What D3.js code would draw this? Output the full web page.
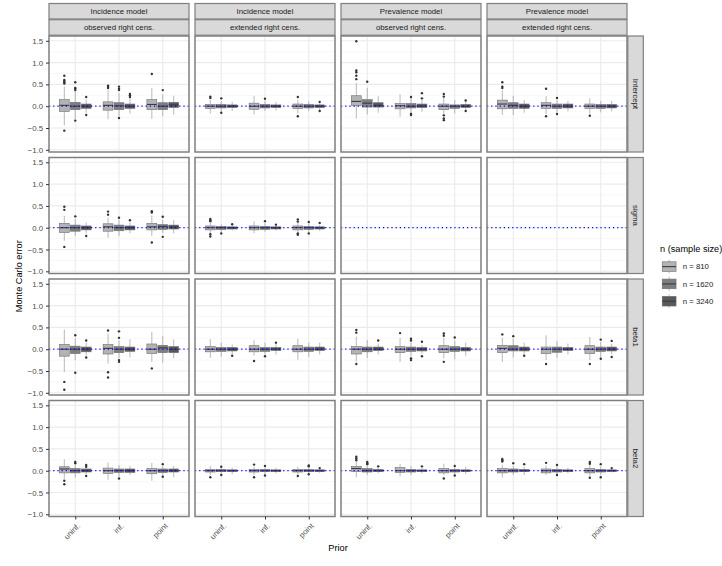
<!DOCTYPE html>
<html>
<head>
<meta charset="utf-8">
<script src="https://cdn.jsdelivr.net/npm/d3@7"></script>
<style>
  body { margin: 0; background: #fff; }
  svg { font-family: "Liberation Sans", Arial, sans-serif; }
</style>
</head>
<body>
<svg width="722" height="566"></svg>
<script>
const params = ["Intercept", "sigma", "beta1", "beta2"];
const models = ["Incidence model", "Incidence model", "Prevalence model", "Prevalence model"];
const censoring = ["observed right cens.", "extended right cens.", "observed right cens.", "extended right cens."];
const priors = ["uninf.", "inf.", "point"];
const sizes = ["n = 810", "n = 1620", "n = 3240"];
const yTicks = [-1, -0.5, 0, 0.5, 1, 1.5];
const yMinor = [-0.75, -0.25, 0.25, 0.75, 1.25];

// box = [lower whisker, q1, median, q3, upper whisker, outliers]
// one list per panel column, prior by prior, n = 810 / 1620 / 3240 inside
const intercept = [
  [[-0.44,-0.12,0.02,0.15,0.45,[0.70,0.60,0.58,0.55,0.52,-0.56]],
   [-0.30,-0.08,0.00,0.09,0.34,[0.55,0.42,0.40,0.37,-0.33]],
   [-0.15,-0.05,0.00,0.05,0.15,[0.21,-0.20]],
   [-0.30,-0.09,0.02,0.10,0.38,[0.47,0.44,0.42]],
   [-0.23,-0.08,0.01,0.08,0.30,[0.45,0.40,0.37,-0.27]],
   [-0.17,-0.05,0.00,0.05,0.18,[0.28,0.25,0.21]],
   [-0.29,-0.08,0.04,0.15,0.42,[0.74]],
   [-0.23,-0.08,0.00,0.08,0.27,[0.37]],
   [-0.19,-0.03,0.03,0.09,0.24,[]]],
  [[-0.17,-0.05,0.00,0.04,0.15,[0.22,0.19]],
   [-0.11,-0.04,0.00,0.04,0.12,[0.18,-0.15]],
   [-0.11,-0.03,0.00,0.03,0.10,[]],
   [-0.19,-0.07,0.00,0.07,0.24,[]],
   [-0.11,-0.04,0.00,0.04,0.12,[0.17]],
   [-0.10,-0.03,0.00,0.03,0.10,[]],
   [-0.17,-0.05,0.00,0.05,0.15,[0.21,-0.23]],
   [-0.11,-0.04,0.00,0.04,0.11,[]],
   [-0.09,-0.03,0.00,0.03,0.08,[0.10,-0.11]]],
  [[-0.28,0.02,0.11,0.24,0.53,[1.49,0.82,0.78,0.70,0.62]],
   [-0.19,-0.02,0.07,0.15,0.42,[0.56]],
   [-0.15,-0.02,0.02,0.08,0.23,[]],
   [-0.24,-0.06,0.01,0.06,0.27,[]],
   [-0.16,-0.04,0.00,0.06,0.18,[0.21,-0.18,-0.20]],
   [-0.13,-0.03,0.00,0.05,0.15,[0.30,0.18]],
   [-0.19,-0.08,0.00,0.05,0.19,[0.28,0.22,-0.21,-0.28,-0.32]],
   [-0.17,-0.05,0.00,0.03,0.14,[]],
   [-0.09,-0.03,0.00,0.04,0.10,[0.13,-0.11]]],
  [[-0.20,-0.06,0.05,0.14,0.38,[0.55,0.45,0.42]],
   [-0.20,-0.05,0.02,0.08,0.24,[]],
   [-0.15,-0.05,0.00,0.05,0.14,[]],
   [-0.18,-0.05,0.02,0.08,0.23,[0.40,-0.23]],
   [-0.14,-0.05,0.00,0.05,0.15,[0.19,-0.18]],
   [-0.12,-0.04,0.00,0.05,0.12,[]],
   [-0.17,-0.05,0.00,0.05,0.18,[-0.22]],
   [-0.14,-0.05,0.00,0.04,0.12,[]],
   [-0.12,-0.04,0.00,0.04,0.12,[]]]
];

const sigma = [
  [[-0.30,-0.11,0.00,0.10,0.27,[0.48,0.41,-0.44]],
   [-0.19,-0.08,0.00,0.06,0.20,[0.26]],
   [-0.13,-0.05,0.00,0.04,0.12,[-0.19]],
   [-0.23,-0.08,0.02,0.09,0.23,[0.37,0.30]],
   [-0.19,-0.07,0.00,0.06,0.18,[0.23]],
   [-0.13,-0.05,0.00,0.04,0.12,[0.17]],
   [-0.19,-0.05,0.02,0.10,0.28,[0.38,0.35,-0.34]],
   [-0.12,-0.04,0.03,0.07,0.18,[0.25,-0.21]],
   [-0.13,-0.03,0.02,0.06,0.18,[]]],
  [[-0.13,-0.05,0.00,0.04,0.12,[0.20,0.17,0.15,-0.15,-0.20]],
   [-0.11,-0.04,0.00,0.03,0.08,[-0.13]],
   [-0.06,-0.03,0.00,0.02,0.05,[0.08]],
   [-0.13,-0.05,0.00,0.04,0.15,[]],
   [-0.09,-0.04,0.00,0.03,0.10,[0.15]],
   [-0.06,-0.03,0.00,0.02,0.05,[0.07]],
   [-0.11,-0.05,0.00,0.04,0.11,[0.19,0.14,-0.13,-0.16]],
   [-0.09,-0.04,0.00,0.03,0.09,[0.13,-0.13]],
   [-0.07,-0.03,0.00,0.02,0.07,[0.11]]],
  null,
  null
];

const beta1 = [
  [[-0.52,-0.16,0.00,0.11,0.45,[-0.75,-0.93]],
   [-0.25,-0.10,0.00,0.07,0.25,[0.32,-0.54]],
   [-0.14,-0.06,0.00,0.05,0.15,[0.20,-0.19]],
   [-0.33,-0.11,0.02,0.11,0.36,[0.43,-0.53,-0.65]],
   [-0.21,-0.08,0.00,0.06,0.20,[0.41,0.26,-0.25,-0.29]],
   [-0.19,-0.05,0.00,0.05,0.23,[]],
   [-0.29,-0.10,0.00,0.12,0.40,[-0.44]],
   [-0.31,-0.08,0.03,0.09,0.30,[]],
   [-0.21,-0.08,0.00,0.06,0.22,[]]],
  [[-0.20,-0.06,0.00,0.06,0.23,[]],
   [-0.17,-0.05,0.00,0.04,0.15,[]],
   [-0.11,-0.04,0.00,0.04,0.11,[-0.15]],
   [-0.15,-0.06,0.00,0.08,0.21,[-0.27]],
   [-0.12,-0.05,0.00,0.04,0.15,[-0.16]],
   [-0.12,-0.03,0.00,0.04,0.11,[0.15]],
   [-0.24,-0.06,0.00,0.08,0.24,[]],
   [-0.18,-0.05,0.00,0.05,0.15,[]],
   [-0.12,-0.03,0.00,0.05,0.15,[]]],
  [[-0.28,-0.11,0.00,0.06,0.29,[0.44,0.38,-0.34]],
   [-0.20,-0.06,0.00,0.05,0.21,[]],
   [-0.12,-0.03,0.00,0.05,0.13,[0.20]],
   [-0.29,-0.08,0.00,0.06,0.26,[0.37]],
   [-0.16,-0.05,0.00,0.05,0.15,[0.24,0.20,-0.21,-0.25]],
   [-0.10,-0.04,0.00,0.04,0.10,[0.17,-0.16]],
   [-0.21,-0.08,0.00,0.08,0.26,[0.36,0.31,-0.29]],
   [-0.23,-0.05,0.00,0.06,0.20,[0.27]],
   [-0.15,-0.04,0.00,0.04,0.15,[]]],
  [[-0.29,-0.08,0.02,0.09,0.26,[0.34]],
   [-0.19,-0.04,0.00,0.08,0.24,[0.30]],
   [-0.12,-0.04,0.00,0.05,0.15,[-0.15]],
   [-0.25,-0.10,0.00,0.05,0.32,[-0.34]],
   [-0.20,-0.07,0.00,0.05,0.19,[]],
   [-0.12,-0.03,0.00,0.04,0.13,[]],
   [-0.25,-0.10,0.00,0.08,0.28,[-0.34]],
   [-0.18,-0.05,0.00,0.05,0.17,[0.22,-0.22]],
   [-0.12,-0.04,0.00,0.05,0.13,[0.19,-0.18]]]
];

const beta2 = [
  [[-0.18,-0.05,0.04,0.09,0.26,[-0.23,-0.31]],
   [-0.16,-0.05,0.00,0.05,0.13,[0.20,0.17]],
   [-0.09,-0.03,0.00,0.04,0.07,[0.13,0.09,-0.12]],
   [-0.21,-0.06,0.00,0.06,0.19,[]],
   [-0.14,-0.04,0.00,0.04,0.13,[-0.18]],
   [-0.10,-0.04,0.00,0.04,0.11,[]],
   [-0.23,-0.07,0.00,0.05,0.18,[]],
   [-0.11,-0.04,0.00,0.04,0.11,[0.15,-0.14]],
   [-0.15,-0.03,0.00,0.04,0.11,[]]],
  [[-0.10,-0.03,0.00,0.03,0.11,[-0.15]],
   [-0.07,-0.02,0.00,0.03,0.07,[0.09,-0.10]],
   [-0.08,-0.02,0.00,0.02,0.07,[]],
   [-0.10,-0.03,0.00,0.03,0.09,[0.14,-0.15]],
   [-0.08,-0.02,0.00,0.03,0.08,[0.11,-0.11]],
   [-0.06,-0.02,0.00,0.02,0.07,[]],
   [-0.09,-0.03,0.00,0.03,0.09,[-0.12]],
   [-0.06,-0.02,0.00,0.03,0.07,[0.12,0.10,-0.08]],
   [-0.05,-0.02,0.00,0.02,0.04,[0.06]]],
  [[-0.15,-0.02,0.05,0.10,0.20,[0.32,0.28,0.24]],
   [-0.10,-0.03,0.00,0.05,0.12,[0.20,0.17,0.15]],
   [-0.06,-0.02,0.00,0.03,0.07,[0.10]],
   [-0.13,-0.04,0.00,0.07,0.15,[]],
   [-0.10,-0.03,0.00,0.03,0.11,[]],
   [-0.06,-0.02,0.00,0.02,0.07,[0.10]],
   [-0.10,-0.05,0.00,0.05,0.16,[-0.18]],
   [-0.08,-0.03,0.00,0.03,0.09,[0.11,-0.11]],
   [-0.08,-0.02,0.00,0.02,0.09,[]]],
  [[-0.16,-0.05,0.00,0.05,0.14,[0.27,0.24,0.21]],
   [-0.10,-0.03,0.00,0.04,0.11,[0.17]],
   [-0.10,-0.02,0.00,0.03,0.09,[0.15]],
   [-0.10,-0.05,0.00,0.04,0.12,[0.18]],
   [-0.08,-0.03,0.00,0.03,0.09,[0.13,-0.10]],
   [-0.06,-0.02,0.00,0.02,0.07,[]],
   [-0.12,-0.05,0.00,0.05,0.13,[0.20,0.16,-0.16]],
   [-0.10,-0.03,0.00,0.03,0.10,[0.15,-0.15]],
   [-0.04,-0.02,0.00,0.02,0.04,[0.06]]]
];

const stats = [intercept, sigma, beta1, beta2];

// ---------------------------------------------------------------------------
// layout

const svg = d3.select("svg");
const pw = 140, ph = 116;
const colX = d3.range(4).map(i => 49 + i * (pw + 6));
const rowY = d3.range(4).map(i => 36 + i * (ph + 5.5));
const border = "#7f7f7f";
const small = "7.8px", title = "9.2px";

const x = d3.scalePoint().domain(priors).range([0, pw]).padding(0.6);
const y = d3.scaleLinear().domain([-1.05, 1.61]).range([ph, 0]);
const dodge = d3.scaleBand().domain(sizes)
                .range([-0.375 * x.step(), 0.375 * x.step()]);
const fill = d3.scaleOrdinal().domain(sizes)
               .range(["#b3b3b3", "#7e7e7e", "#595959"]);

function drawBox(g, b, cx, w, size) {
  const [lo, q1, med, q3, hi, outs] = b;
  g.append("line")
    .attr("x1", cx).attr("x2", cx)
    .attr("y1", y(hi)).attr("y2", y(q3))
    .attr("stroke", "#8c8c8c").attr("stroke-width", 0.6);
  g.append("line")
    .attr("x1", cx).attr("x2", cx)
    .attr("y1", y(q1)).attr("y2", y(lo))
    .attr("stroke", "#8c8c8c").attr("stroke-width", 0.6);
  g.append("rect")
    .attr("x", cx - w / 2).attr("width", w)
    .attr("y", y(q3)).attr("height", y(q1) - y(q3))
    .attr("fill", fill(size))
    .attr("stroke", "#6e6e6e").attr("stroke-width", 0.6);
  g.append("line")
    .attr("x1", cx - w / 2).attr("x2", cx + w / 2)
    .attr("y1", y(med)).attr("y2", y(med))
    .attr("stroke", "#3a3a3a").attr("stroke-width", 1.1);
  g.selectAll(null).data(outs).enter().append("circle")
    .attr("cx", cx).attr("cy", d => y(d)).attr("r", 1.2)
    .attr("fill", "#333");
}

params.forEach((p, r) => {
  models.forEach((m, c) => {
    const g = svg.append("g")
      .attr("transform", `translate(${colX[c]},${rowY[r]})`);

    g.append("rect").attr("width", pw).attr("height", ph).attr("fill", "#fff");

    g.selectAll(".minor").data(yMinor).enter().append("line")
      .attr("x1", 0).attr("x2", pw)
      .attr("y1", d => y(d)).attr("y2", d => y(d))
      .attr("stroke", "#f2f2f2").attr("stroke-width", 0.6);
    g.selectAll(".major").data(yTicks).enter().append("line")
      .attr("x1", 0).attr("x2", pw)
      .attr("y1", d => y(d)).attr("y2", d => y(d))
      .attr("stroke", "#ebebeb").attr("stroke-width", 1.1);
    g.selectAll(".vgrid").data(priors).enter().append("line")
      .attr("x1", d => x(d)).attr("x2", d => x(d))
      .attr("y1", 0).attr("y2", ph)
      .attr("stroke", "#ebebeb").attr("stroke-width", 1.1);

    const panel = stats[r][c];
    if (panel) {
      panel.forEach((b, i) => {
        const size = sizes[i % 3];
        const cx = x(priors[Math.floor(i / 3)]) + dodge(size) + dodge.bandwidth() / 2;
        drawBox(g, b, cx, dodge.bandwidth() * 0.9, size);
      });
    }

    // reference line at zero
    g.append("line")
      .attr("x1", 0).attr("x2", pw)
      .attr("y1", y(0)).attr("y2", y(0))
      .attr("stroke", "#0000ff").attr("stroke-width", 1.2)
      .attr("stroke-dasharray", "1.2,3");

    g.append("rect").attr("width", pw).attr("height", ph)
      .attr("fill", "none").attr("stroke", border).attr("stroke-width", 1.5);

    if (c === 0) {
      const ax = g.append("g").call(d3.axisLeft(y).tickValues(yTicks)
                                     .tickSize(3).tickFormat(d3.format(".1f")));
      ax.select(".domain").remove();
      ax.selectAll("line").attr("stroke", "#333");
      ax.selectAll("text").attr("fill", "#4d4d4d")
        .style("font-size", small).style("font-family", "inherit");
    }
    if (r === params.length - 1) {
      const ax = g.append("g").attr("transform", `translate(0,${ph})`)
        .call(d3.axisBottom(x).tickSize(3));
      ax.select(".domain").remove();
      ax.selectAll("line").attr("stroke", "#333");
      ax.selectAll("text")
        .attr("x", 0).attr("y", 0).attr("dy", "0.35em")
        .attr("transform", "translate(3,8) rotate(-45)")
        .attr("text-anchor", "end")
        .attr("fill", "#4d4d4d")
        .style("font-size", small).style("font-family", "inherit");
    }
  });
});

// top strips
models.forEach((m, c) => {
  [m, censoring[c]].forEach((label, k) => {
    const sy = 3.5 + k * 16.2;
    svg.append("rect")
      .attr("x", colX[c]).attr("y", sy).attr("width", pw).attr("height", 15.5)
      .attr("fill", "#d9d9d9").attr("stroke", border).attr("stroke-width", 1.2);
    svg.append("text")
      .attr("x", colX[c] + pw / 2).attr("y", sy + 7.9).attr("dy", "0.35em")
      .attr("text-anchor", "middle").attr("fill", "#1a1a1a")
      .style("font-size", small).text(label);
  });
});

// right strips
params.forEach((p, r) => {
  const sx = colX[3] + pw + 0.8;
  svg.append("rect")
    .attr("x", sx).attr("y", rowY[r]).attr("width", 15.5).attr("height", ph)
    .attr("fill", "#d9d9d9").attr("stroke", border).attr("stroke-width", 1.2);
  svg.append("text")
    .attr("transform", `translate(${sx + 7.75},${rowY[r] + ph / 2}) rotate(90)`)
    .attr("dy", "0.35em").attr("text-anchor", "middle").attr("fill", "#1a1a1a")
    .style("font-size", small).text(p);
});

// axis titles
svg.append("text")
  .attr("transform", `translate(22,${rowY[0] + (rowY[3] + ph - rowY[0]) / 2}) rotate(-90)`)
  .attr("text-anchor", "middle").style("font-size", title).text("Monte Carlo error");
svg.append("text")
  .attr("x", (colX[0] + colX[3] + pw) / 2).attr("y", 551)
  .attr("text-anchor", "middle").style("font-size", title).text("Prior");

// legend
const lg = svg.append("g").attr("transform", "translate(660,0)");
lg.append("text").attr("x", 0).attr("y", 252).style("font-size", title)
  .text("n (sample size)");
const key = 17.28;
sizes.forEach((s, i) => {
  const ky = 258 + i * key;
  lg.append("rect").attr("x", 0.5).attr("y", ky).attr("width", key).attr("height", key)
    .attr("fill", "#fff");
  lg.append("line")
    .attr("x1", 0.5 + key / 2).attr("x2", 0.5 + key / 2)
    .attr("y1", ky + key * 0.1).attr("y2", ky + key * 0.9)
    .attr("stroke", "#8c8c8c").attr("stroke-width", 0.6);
  lg.append("rect")
    .attr("x", 0.5 + key * 0.1).attr("width", key * 0.8)
    .attr("y", ky + key * 0.22).attr("height", key * 0.56)
    .attr("fill", fill(s)).attr("stroke", "#6e6e6e").attr("stroke-width", 0.6);
  lg.append("line")
    .attr("x1", 0.5 + key * 0.1).attr("x2", 0.5 + key * 0.9)
    .attr("y1", ky + key / 2).attr("y2", ky + key / 2)
    .attr("stroke", "#3a3a3a").attr("stroke-width", 1.1);
  lg.append("text").attr("x", 22.7).attr("y", ky + key / 2).attr("dy", "0.35em")
    .attr("fill", "#1a1a1a").style("font-size", small).text(s);
});
</script>
</body>
</html>
